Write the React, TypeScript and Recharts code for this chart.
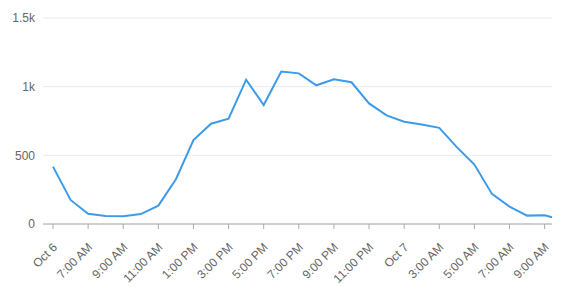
import React from "react";
import { LineChart, Line, XAxis, YAxis, CartesianGrid } from "recharts";

const hours = [0, 1, 2, 3, 4, 5, 6, 7, 8, 9, 10, 11, 12, 13, 14, 15, 16, 17, 18, 19, 20, 21, 22, 23, 24, 25, 26, 27, 28, 28.42];
const values = [418, 175, 75, 58, 56, 72, 134, 326, 611, 730, 767, 1051, 866, 1110, 1097, 1010, 1053, 1032, 878, 791, 745, 725, 700, 560, 433, 219, 126, 61, 63, 49];
const tickHours = [0, 2, 4, 6, 8, 10, 12, 14, 16, 18, 20, 22, 24, 26, 28];
const tickLabels = ["Oct 6", "7:00 AM", "9:00 AM", "11:00 AM", "1:00 PM", "3:00 PM", "5:00 PM", "7:00 PM", "9:00 PM", "11:00 PM", "Oct 7", "3:00 AM", "5:00 AM", "7:00 AM", "9:00 AM"];
const yTicks = [0, 500, 1000, 1500];

const data = hours.map((h, i) => ({ h, v: values[i] }));

const fmtY = (v: number) => (v >= 1000 ? `${v / 1000}k` : `${v}`);

const XTick = (props: any) => {
  const { x, y, payload } = props;
  const idx = tickHours.indexOf(payload.value);
  const label = idx >= 0 ? tickLabels[idx] : "";
  return (
    <g transform={`translate(${x + 5},${y + 17})`}>
      <text x={0} y={0} textAnchor="end" fill="#666" fontSize={12} transform="rotate(-45)" fontFamily="Liberation Sans, Arial, sans-serif">
        {label}
      </text>
    </g>
  );
};

export default function App() {
  return (
    <div style={{ position: "absolute", left: 0, top: 0, background: "#fff" }}>
      <LineChart width={562} height={287} data={data} margin={{ top: 18, right: 10, left: 0, bottom: 0 }}>
        <CartesianGrid vertical={false} stroke="#ebebeb" />
        <XAxis
          dataKey="h"
          type="number"
          domain={[0, 28.42]}
          ticks={tickHours}
          padding={{ left: 10, right: 0 }}
          height={63}
          tick={<XTick />}
          tickLine={{ stroke: "#aaa" }}
          axisLine={{ stroke: "#aaa" }}
          tickSize={5}
          interval={0}
        />
        <YAxis
          domain={[0, 1500]}
          ticks={yTicks}
          width={43}
          tickFormatter={fmtY}
          axisLine={false}
          tickLine={false}
          tick={{ fill: "#666", fontSize: 12, fontFamily: "Liberation Sans, Arial, sans-serif" }}
        />
        <Line type="linear" dataKey="v" stroke="#3d9be9" strokeWidth={2} dot={false} isAnimationActive={false} />
      </LineChart>
    </div>
  );
}
